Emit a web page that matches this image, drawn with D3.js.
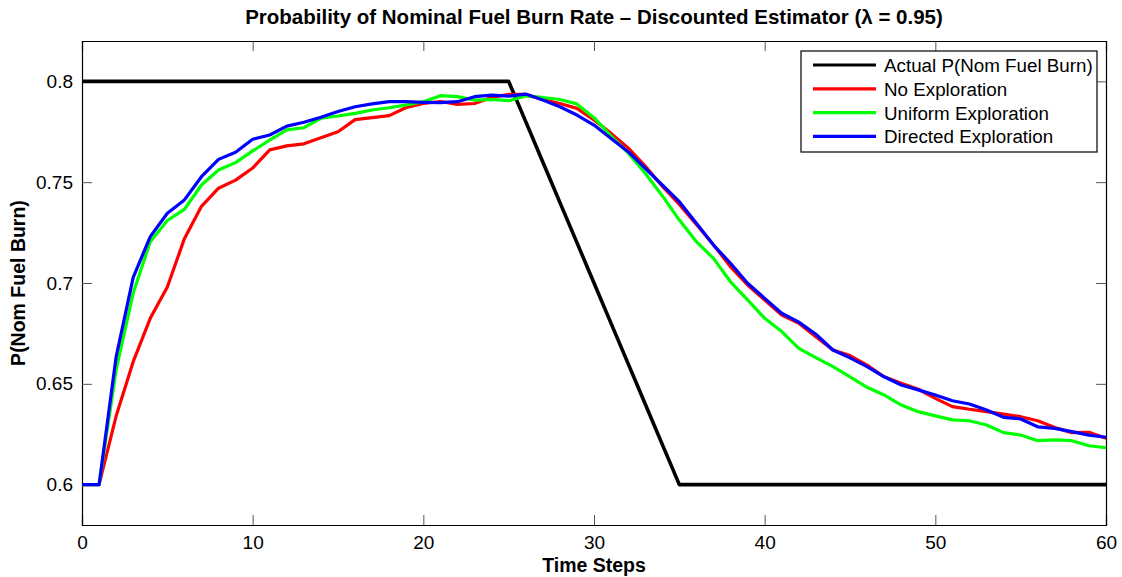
<!DOCTYPE html>
<html>
<head>
<meta charset="utf-8">
<script src="https://cdn.jsdelivr.net/npm/d3@7"></script>
<style>
  body { margin: 0; background: #fff; }
  svg { font-family: "Liberation Sans", Arial, Helvetica, sans-serif; }
</style>
</head>
<body>
<div id="chart"></div>
<script>
// time steps 0..60
const steps = [0,1,2,3,4,5,6,7,8,9,10,11,12,13,14,15,16,17,18,19,20,21,22,23,24,25,26,27,28,29,30,
  31,32,33,34,35,36,37,38,39,40,41,42,43,44,45,46,47,48,49,50,51,52,53,54,55,56,57,58,59,60];

const actual = [0.8,0.8,0.8,0.8,0.8,0.8,0.8,0.8,0.8,0.8,0.8,0.8,0.8,0.8,0.8,0.8,0.8,0.8,0.8,0.8,0.8,
  0.8,0.8,0.8,0.8,0.8,0.78,0.76,0.74,0.72,0.70,0.68,0.66,0.64,0.62,0.60,0.6,0.6,0.6,0.6,0.6,
  0.6,0.6,0.6,0.6,0.6,0.6,0.6,0.6,0.6,0.6,0.6,0.6,0.6,0.6,0.6,0.6,0.6,0.6,0.6,0.6];

const noExploration = [0.6,0.6,0.634,0.661,0.6825,0.698,0.722,0.738,0.747,0.751,0.757,
  0.766,0.768,0.769,0.772,0.775,0.781,0.782,0.783,0.787,0.789,
  0.790,0.7886,0.789,0.792,0.7935,0.7935,0.791,0.789,0.7866,0.7808,
  0.7742,0.767,0.758,0.748,0.739,0.729,0.719,0.708,0.699,0.6916,
  0.6841,0.680,0.6734,0.6668,0.664,0.6593,0.6535,0.6503,0.6473,0.6428,
  0.6387,0.6374,0.6362,0.635,0.6337,0.6317,0.6283,0.6258,0.626,0.623];

const uniformExploration = [0.6,0.6,0.657,0.695,0.7205,0.731,0.7365,0.7486,0.756,0.7597,0.7655,
  0.7709,0.7759,0.777,0.7817,0.7828,0.7841,0.7858,0.7869,0.7883,0.7899,
  0.7929,0.7924,0.7907,0.791,0.7904,0.7927,0.792,0.791,0.7888,0.782,
  0.7728,0.7645,0.7544,0.7433,0.7312,0.7205,0.7122,0.7006,0.6916,0.6825,
  0.6759,0.6676,0.663,0.6585,0.6535,0.6483,0.6445,0.6395,0.6362,0.6341,
  0.6321,0.6317,0.6296,0.6258,0.6246,0.6218,0.6222,0.6218,0.6193,0.6183];

const directedExploration = [0.6,0.6,0.6634,0.7028,0.723,0.7346,0.7412,0.7527,0.7613,0.7648,0.7713,
  0.7734,0.7778,0.7797,0.7822,0.785,0.7874,0.7888,0.7899,0.7899,0.7896,
  0.7894,0.7899,0.7924,0.7932,0.7927,0.7937,0.7907,0.7874,0.7833,0.7783,
  0.7717,0.7651,0.7569,0.7486,0.7403,0.7296,0.7188,0.7098,0.6999,0.6924,
  0.685,0.6806,0.6746,0.6668,0.6629,0.6585,0.6535,0.6494,0.647,0.6445,
  0.6416,0.64,0.637,0.6334,0.6326,0.6287,0.6279,0.6263,0.6246,0.6235];

const seriesNames = ["Actual P(Nom Fuel Burn)", "No Exploration", "Uniform Exploration", "Directed Exploration"];
const xTicks = [0, 10, 20, 30, 40, 50, 60];
const yTicks = [0.6, 0.65, 0.7, 0.75, 0.8];

// Dimensions
const width = 1122;
const height = 577;
const margin = { top: 41, right: 16, bottom: 52, left: 82 };

const svg = d3.select("#chart")
  .append("svg")
  .attr("width", width)
  .attr("height", height);

// Scales
const x = d3.scaleLinear()
  .domain([0, 60])
  .range([margin.left, width - margin.right]);

const y = d3.scaleLinear()
  .domain([0.58, 0.82])
  .range([height - margin.bottom, margin.top]);

const colors = d3.scaleOrdinal()
  .domain(seriesNames)
  .range(["#000000", "#ff0000", "#00ff00", "#0000ff"]);

// Axes (MATLAB style, ticks pointing inward on all four sides)
svg.append("g")
  .attr("transform", `translate(0,${height - margin.bottom})`)
  .call(d3.axisBottom(x).tickValues(xTicks).tickSize(-10).tickPadding(11));

svg.append("g")
  .attr("transform", `translate(0,${margin.top})`)
  .call(d3.axisTop(x).tickValues(xTicks).tickSize(-10).tickFormat(""));

svg.append("g")
  .attr("transform", `translate(${margin.left},0)`)
  .call(d3.axisLeft(y).tickValues(yTicks).tickSize(-10).tickPadding(9).tickFormat(d => String(d)));

svg.append("g")
  .attr("transform", `translate(${width - margin.right},0)`)
  .call(d3.axisRight(y).tickValues(yTicks).tickSize(-10).tickFormat(""));

svg.selectAll(".domain").attr("stroke", "#000").attr("stroke-width", 1.2);
svg.selectAll(".tick line").attr("stroke", "#555");
svg.selectAll(".tick text")
  .attr("fill", "#000")
  .style("font-size", "19px")
  .style("font-family", "'Liberation Sans', Arial, sans-serif");

// Lines
const line = d3.line()
  .x((d, i) => x(steps[i]))
  .y(d => y(d));

const allSeries = [actual, noExploration, uniformExploration, directedExploration];

svg.append("g")
  .selectAll("path")
  .data(allSeries)
  .join("path")
  .attr("fill", "none")
  .attr("stroke", (d, i) => colors(seriesNames[i]))
  .attr("stroke-width", (d, i) => i === 0 ? 3.6 : 3.2)
  .attr("stroke-linejoin", "round")
  .attr("d", line);

// Title
svg.append("text")
  .attr("x", (margin.left + width - margin.right) / 2)
  .attr("y", 24)
  .attr("text-anchor", "middle")
  .style("font-size", "20.5px")
  .style("font-weight", "bold")
  .text("Probability of Nominal Fuel Burn Rate \u2013 Discounted Estimator (\u03bb = 0.95)");

// X-axis label
svg.append("text")
  .attr("x", (margin.left + width - margin.right) / 2)
  .attr("y", 572)
  .attr("text-anchor", "middle")
  .style("font-size", "19.5px")
  .style("font-weight", "bold")
  .text("Time Steps");

// Y-axis label
svg.append("text")
  .attr("x", -(margin.top + height - margin.bottom) / 2)
  .attr("y", 25)
  .attr("transform", "rotate(-90)")
  .attr("text-anchor", "middle")
  .style("font-size", "19.5px")
  .style("font-weight", "bold")
  .text("P(Nom Fuel Burn)");

// Legend
const legend = svg.append("g").attr("transform", "translate(801,51)");

legend.append("rect")
  .attr("width", 296)
  .attr("height", 101)
  .attr("fill", "#fff")
  .attr("stroke", "#000")
  .attr("stroke-width", 1.2);

const rows = legend.selectAll("g.row")
  .data(seriesNames)
  .join("g")
  .attr("class", "row")
  .attr("transform", (d, i) => `translate(0,${14 + i * 23.8})`);

rows.append("line")
  .attr("x1", 12)
  .attr("x2", 75)
  .attr("stroke", d => colors(d))
  .attr("stroke-width", 3.2);

rows.append("text")
  .attr("x", 83)
  .attr("y", 7)
  .style("font-size", "18.8px")
  .text(d => d);
</script>
</body>
</html>
